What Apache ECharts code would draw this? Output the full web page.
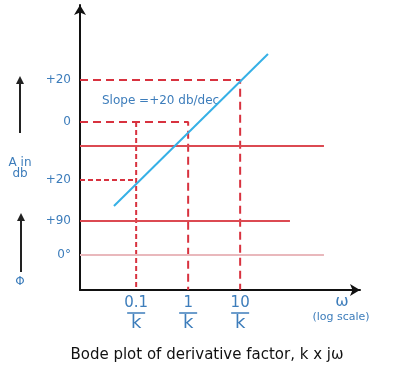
<!DOCTYPE html>
<html><head><meta charset="utf-8">
<script src="https://cdn.jsdelivr.net/npm/echarts@6/dist/echarts.min.js"></script>
<style>html,body{margin:0;padding:0;background:#fff}#c{width:400px;height:369px}</style>
</head><body><div id="c"></div>
<script>
// x in decades of omega*k (log scale), y in diagram level units
const xTickValues = [-1, 0, 1];
const xTickLabels = ['0.1', '1', '10'];
const yLabelValues = [210, 168, 110, 69, 35];
const yLabelTexts = ['+20', '0', '+20', '+90', '0°'];
const plus20Dashed = [[-2.08, 210], [1, 210], [1, 0]];
const zeroDashed = [[-2.08, 168], [0, 168], [0, 0]];
const tenthDashed = [[-1, 168], [-1, 0]];
const minus20Dashed = [[-2.08, 110], [-1, 110]];
const magSolid = [[-2.08, 144], [2.612, 144]];
const phase90 = [[-2.08, 69], [1.958, 69]];
const phase0 = [[-2.08, 35], [2.612, 35]];
const slopeLine = [[-1.427, 84], [1.535, 236]];

const BLUE = '#3d7dbb', RED = '#d8323f', FONT = 'DejaVu Sans';
const chart = echarts.init(document.getElementById('c'), null, {renderer: 'canvas'});
function seg(data, color, type, width, z) {
  return {type: 'line', data: data, symbol: 'none', silent: true, z: z || 2,
    lineStyle: {color: color, width: width || 2, type: type || 'solid'}};
}
const labelMap = {};
xTickValues.forEach((v, i) => labelMap[v] = xTickLabels[i]);
const yMap = {};
yLabelValues.forEach((v, i) => yMap[v] = yLabelTexts[i]);

chart.setOption({
  animation: false,
  grid: {left: 80, top: 5, width: 280, bottom: 79},
  xAxis: {
    type: 'value', min: -2.08, max: 3.305,
    axisLine: {onZero: false, lineStyle: {color: '#111', width: 2}, symbol: ['none', 'arrow'], symbolSize: [9, 10]},
    axisTick: {show: false}, splitLine: {show: false},
    axisLabel: {
      customValues: xTickValues, margin: 5,
      formatter: v => '{n|' + labelMap[v] + '}\n{b|}\n{k|k}',
      rich: {
        n: {color: BLUE, fontFamily: FONT, fontSize: 15, lineHeight: 16, align: 'center'},
        b: {backgroundColor: BLUE, width: 18, height: 1.5, lineHeight: 4, align: 'center'},
        k: {color: BLUE, fontFamily: FONT, fontSize: 18, lineHeight: 17, align: 'center'}
      }
    }
  },
  yAxis: {
    type: 'value', min: 0, max: 285,
    axisLine: {onZero: false, lineStyle: {color: '#111', width: 2}, symbol: ['none', 'arrow'], symbolSize: [9, 10]},
    axisTick: {show: false}, splitLine: {show: false},
    axisLabel: {customValues: yLabelValues, margin: 9, color: BLUE, fontFamily: FONT, fontSize: 12,
      formatter: v => yMap[v]}
  },
  series: [
    seg(plus20Dashed, RED, [8, 5]),
    seg(zeroDashed, RED, [8, 5]),
    seg(tenthDashed, RED, [5, 3]),
    seg(minus20Dashed, RED, [5, 3]),
    seg(magSolid, '#dc4a52', 'solid', 2),
    seg(phase90, '#dc4a52', 'solid', 2),
    seg(phase0, '#e9b8bc', 'solid', 2),
    seg(slopeLine, '#36b0e6', 'solid', 2, 3)
  ],
  graphic: [
    {type: 'text', style: {x: 102, y: 101, text: 'Slope =+20 db/dec', fill: BLUE, font: '12px "DejaVu Sans"', verticalAlign: 'middle'}},
    {type: 'text', style: {x: 20, y: 163, text: 'A in', fill: BLUE, font: '12px "DejaVu Sans"', align: 'center', verticalAlign: 'middle'}},
    {type: 'text', style: {x: 20, y: 174, text: 'db', fill: BLUE, font: '12px "DejaVu Sans"', align: 'center', verticalAlign: 'middle'}},
    {type: 'text', style: {x: 20, y: 282, text: 'Φ', fill: BLUE, font: '12px "DejaVu Sans"', align: 'center', verticalAlign: 'middle'}},
    {type: 'text', style: {x: 342, y: 302, text: 'ω', fill: BLUE, font: '16px "DejaVu Sans"', align: 'center', verticalAlign: 'middle'}},
    {type: 'text', style: {x: 341, y: 317, text: '(log scale)', fill: BLUE, font: '11px "DejaVu Sans"', align: 'center', verticalAlign: 'middle'}},
    {type: 'text', style: {x: 207, y: 355, text: 'Bode plot of derivative factor, k x jω', fill: '#111', font: '15px "DejaVu Sans"', align: 'center', verticalAlign: 'middle'}},
    {type: 'line', shape: {x1: 20, y1: 133, x2: 20, y2: 82}, style: {stroke: '#222', lineWidth: 2}},
    {type: 'polygon', shape: {points: [[20, 76], [16, 84], [24, 84]]}, style: {fill: '#222'}},
    {type: 'line', shape: {x1: 21, y1: 272, x2: 21, y2: 219}, style: {stroke: '#222', lineWidth: 2}},
    {type: 'polygon', shape: {points: [[21, 213], [17, 221], [25, 221]]}, style: {fill: '#222'}}
  ]
});
</script></body></html>
